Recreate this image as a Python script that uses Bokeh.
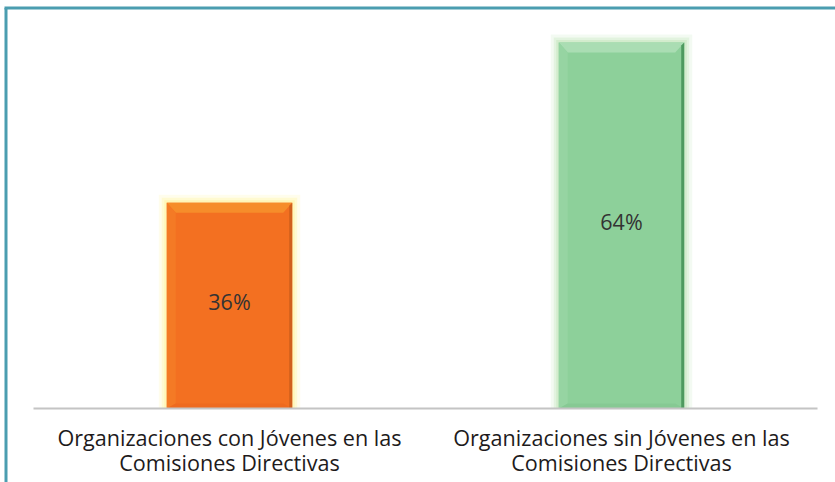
from bokeh.plotting import figure
from bokeh.models import Range1d, ColumnDataSource
from bokeh.core.properties import value
from bokeh.embed import file_html
from bokeh.resources import INLINE

# ---- data ----
categories = ["Organizaciones con Jóvenes en las\nComisiones Directivas",
              "Organizaciones sin Jóvenes en las\nComisiones Directivas"]
values = [0.36, 0.64]
value_labels = ["36%", "64%"]

# ---- styles ----
face = ["#F37021", "#8DD09A"]
top_c = ["#F68D2A", "#AADDB3"]
left_c = ["#F47A25", "#96D4A2"]
right_c = ["#D0601C", "#4E9A5F"]
bottom_c = ["#EE6A1F", "#86C993"]
glow = ["#FFF3A0", "#C3E5BC"]
FONT = "Open Sans"

W, H = 835, 482
PX_X = 392.0      # px per category unit
PX_Y = 571.875    # px per value unit
x0 = -0.5 - 33 / PX_X
x1 = 1.5 + 18 / PX_X
y0 = -74 / PX_Y
y1 = 408 / PX_Y

p = figure(width=W, height=H, output_backend="svg", toolbar_location=None,
           x_range=Range1d(x0, x1), y_range=Range1d(y0, y1),
           x_axis_type=None, y_axis_type=None, min_border=0,
           min_border_left=0, min_border_right=0, min_border_top=0, min_border_bottom=0)
p.grid.visible = False
p.outline_line_color = None
p.background_fill_color = "white"
p.border_fill_color = "white"

xs = list(range(len(values)))
bw = 0.32
dx = 9 / PX_X
dy = 10 / PX_Y
ex = 3 / PX_X

# glow
for k, a in [(8, 0.2), (5, 0.35), (2.5, 0.5)]:
    p.quad(left=[x - bw / 2 - k / PX_X for x in xs], right=[x + bw / 2 + k / PX_X for x in xs],
           bottom=[0] * len(xs), top=[v + k / PX_Y for v in values],
           fill_color=glow, fill_alpha=a, line_color=None)

# bars
src = ColumnDataSource(dict(x=xs, top=values, color=face))
p.vbar(x="x", top="top", width=bw, source=src, fill_color="color", line_color=None)

# bevels computed from values
pxs, pys, pcs = [], [], []
for i, (x, v) in enumerate(zip(xs, values)):
    L, R, T, B = x - bw / 2, x + bw / 2, v, 0.0
    # top
    pxs.append([L, R, R - dx, L + dx]); pys.append([T, T, T - dy, T - dy]); pcs.append(top_c[i])
    # left
    pxs.append([L, L + dx, L + dx, L]); pys.append([T, T - dy, B + dy * 0.5, B]); pcs.append(left_c[i])
    # bottom
    pxs.append([L, L + dx, R - dx, R]); pys.append([B, B + dy * 0.5, B + dy * 0.5, B]); pcs.append(bottom_c[i])
    # right dark edge
    pxs.append([R - ex, R, R, R - ex]); pys.append([T - dy * 0.3, T, B, B]); pcs.append(right_c[i])
p.patches(xs=pxs, ys=pys, fill_color=pcs, line_color=None)

# baseline
p.segment(x0=[-0.5], y0=[0], x1=[1.5], y1=[0], line_color="#C4C4C4", line_width=2)

# value labels
p.text(x=xs, y=[v / 2 for v in values], text=value_labels, text_align="center",
       text_baseline="middle", y_offset=-4, text_font=value(FONT),
       text_font_size="21.5px", text_color="#333333")

# category labels
line1 = [c.split("\n")[0] for c in categories]
line2 = [c.split("\n")[1] for c in categories]
p.text(x=xs, y=[0] * len(xs), text=line1, text_align="center", text_baseline="middle",
       y_offset=29, text_font=value(FONT), text_font_size="21.6px", text_color="#1E1B1C")
p.text(x=xs, y=[0] * len(xs), text=line2, text_align="center", text_baseline="middle",
       y_offset=54, text_font=value(FONT), text_font_size="21.6px", text_color="#1E1B1C")

# frame lines (top and left, teal)
tline = y1 - 7.5 / PX_Y
lline = x0 + 5.5 / PX_X
p.segment(x0=[lline - 1.5 / PX_X], y0=[tline], x1=[x1], y1=[tline], line_color="#4B9DB0", line_width=3)
p.segment(x0=[lline], y0=[tline], x1=[lline], y1=[y0], line_color="#4B9DB0", line_width=3)

open("out.html", "w").write(file_html(p, INLINE))
